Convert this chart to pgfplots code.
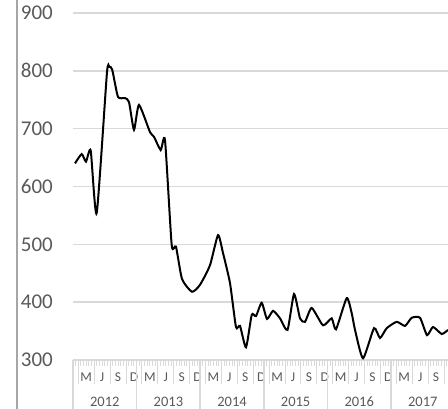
\documentclass[border=0pt]{standalone}
\usepackage{pgfplots}
\pgfplotsset{compat=1.18}
\usepackage{fontspec}
\setmainfont{Carlito}
\definecolor{gridgray}{HTML}{D9D9D9}
\definecolor{labelgray}{HTML}{595959}
\definecolor{framegray}{HTML}{A6A6A6}
\begin{document}
\begin{tikzpicture}
\begin{axis}[
    at={(0,0)}, anchor=south west,
    scale only axis, width=375pt, height=360pt,
    xmin=0, xmax=70.75, ymin=300, ymax=922.5,
    clip=false,
    axis line style={draw=none},
    ytick={300,400,...,900},
    ymajorgrids, grid style={gridgray, line width=1.5pt},
    major tick length=0pt,
    yticklabel style={anchor=east, inner sep=0pt, xshift=-20pt,
        font=\fontsize{21}{21}\selectfont, text=labelgray},
    /pgf/number format/assume math mode=true,
    xtick={2.5,5.5,...,70},
    xticklabels={M,J,S,D,M,J,S,D,M,J,S,D,M,J,S,D,M,J,S,D,M,J,S},
    xticklabel style={anchor=center, inner sep=0pt, yshift=-17pt,
        font=\fontsize{13.5}{13.5}\selectfont, text=labelgray},
    minor xtick={0,0.5,...,70.5},
    tick align=outside,
    minor tick length=6pt,
    minor x tick style={gridgray, line width=1pt},
]

% month separators and year separators under the axis
\pgfplotsinvokeforeach{1,4,7,10,13,16,19,22,25,28,31,34,37,40,43,46,49,52,55,58,61,64,67,70}{
  \draw[gridgray, line width=1pt] (axis cs:#1,300) -- ([yshift=-24pt]axis cs:#1,300);
}
\pgfplotsinvokeforeach{0,12,24,36,48,60}{
  \draw[gridgray, line width=1.5pt] (axis cs:#1,300) -- ([yshift=-49pt]axis cs:#1,300);
}

% year labels
\node[font=\fontsize{14.5}{14.5}\selectfont, text=labelgray] at ([yshift=-42pt]axis cs:6,300) {2012};
\node[font=\fontsize{14.5}{14.5}\selectfont, text=labelgray] at ([yshift=-42pt]axis cs:18,300) {2013};
\node[font=\fontsize{14.5}{14.5}\selectfont, text=labelgray] at ([yshift=-42pt]axis cs:30,300) {2014};
\node[font=\fontsize{14.5}{14.5}\selectfont, text=labelgray] at ([yshift=-42pt]axis cs:42,300) {2015};
\node[font=\fontsize{14.5}{14.5}\selectfont, text=labelgray] at ([yshift=-42pt]axis cs:54,300) {2016};
\node[font=\fontsize{14.5}{14.5}\selectfont, text=labelgray] at ([yshift=-42pt]axis cs:66,300) {2017};
\node[font=\fontsize{13.5}{13.5}\selectfont, text=labelgray] at ([yshift=-17pt]axis cs:71.5,300) {D};

% series
\addplot[black, line width=2pt, smooth, tension=0.35] coordinates {
  (0.38,640) (1.64,656) (2.45,643) (3.34,662) (4.47,554) (6.40,796)
  (6.85,807) (7.40,802) (8.49,755) (9.81,753) (10.57,746) (11.51,698) (12.45,741)
  (14.53,694) (15.28,686) (16.55,663) (17.36,680) (18.62,499) (19.43,496)
  (20.57,440) (22.45,418) (23.96,430) (25.85,464) (27.36,516) (28.30,485)
  (29.62,433) (30.75,357) (31.51,359) (32.64,322) (33.72,378) (34.53,376)
  (35.60,399) (36.60,371) (37.74,385) (39.06,372) (40.47,352) (41.70,414)
  (42.83,372) (43.77,366) (45.04,390) (47.17,360) (48.81,372) (49.62,353)
  (51.64,407) (52.58,381) (53.21,352) (54.72,303) (56.79,355) (57.92,338)
  (59.19,355) (61.08,366) (62.64,359) (63.91,373) (65.47,373) (66.79,343)
  (67.92,357) (69.57,345) (70.75,352)
};
\end{axis}
\draw[framegray, line width=1.5pt] (-56pt,-49pt) -- (-56pt,360pt);
\pgfresetboundingbox
\path[use as bounding box] (-73pt,-49pt) rectangle (375pt,360pt);
\end{tikzpicture}
\end{document}
